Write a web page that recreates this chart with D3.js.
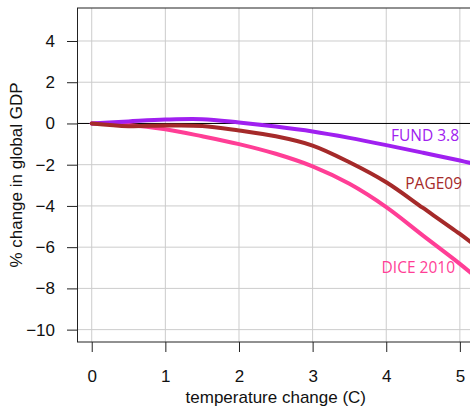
<!DOCTYPE html>
<html>
<head>
<meta charset="utf-8">
<script src="https://cdn.jsdelivr.net/npm/d3@7"></script>
<style>
  body { margin: 0; background: white; }
  svg { display: block; }
</style>
</head>
<body>
<div id="graf"></div>
<script>
// Daño económico vs. cambio de temperatura

// Datos
temps = [0, 0.5, 1, 1.5, 2, 2.5, 3, 3.5, 4, 4.5, 5, 5.2]
fund  = [0, 0.1, 0.19, 0.21, 0.05, -0.15, -0.39, -0.7, -1.05, -1.42, -1.8, -1.96]
page  = [0, -0.13, -0.1, -0.12, -0.34, -0.62, -1.07, -1.88, -2.85, -4.1, -5.36, -5.9]
dice  = [0, -0.07, -0.28, -0.62, -1.0, -1.47, -2.08, -2.93, -4.06, -5.44, -6.81, -7.4]

modelos  = ['DICE 2010', 'FUND 3.8', 'PAGE09']
valores  = [dice, fund, page]
colores  = ['#ff3e96', '#a020f0', '#a52a2a']

xTicks = [0, 1, 2, 3, 4, 5]
yTicks = [-10, -8, -6, -4, -2, 0, 2, 4]

ancho_total = 470
alto_total  = 406
margins = { top: 8, left: 77, bottom: 64 }
ancho = 397.6
alto  = alto_total - margins.top - margins.bottom

svg = d3.select('#graf').append('svg')
        .attr('width', ancho_total)
        .attr('height', alto_total)

g = svg.append('g')
        .attr('transform', `translate(${ margins.left }, ${ margins.top })`)

// Escaladores
x = d3.scaleLinear().domain([-0.2, 5.2]).range([0, ancho])
y = d3.scaleLinear().domain([-10.6, 5.6]).range([alto, 0])

g.append('clipPath')
  .attr('id', 'clip')
    .append('rect')
    .attr('width', ancho)
    .attr('height', alto)

// Rejilla
g.selectAll('.gx').data(xTicks).enter()
  .append('line')
    .attr('x1', d => x(d)).attr('x2', d => x(d))
    .attr('y1', 0).attr('y2', alto)
    .attr('stroke', '#cccccc')
g.selectAll('.gy').data(yTicks).enter()
  .append('line')
    .attr('x1', 0).attr('x2', ancho)
    .attr('y1', d => y(d)).attr('y2', d => y(d))
    .attr('stroke', '#cccccc')

g.append('line')
  .attr('x1', 0).attr('x2', ancho)
  .attr('y1', y(0)).attr('y2', y(0))
  .attr('stroke', 'black')

// Ejes
xAxis = d3.axisBottom(x).tickValues(xTicks).tickSize(10).tickPadding(18).tickFormat(d3.format('d'))
yAxis = d3.axisLeft(y).tickValues(yTicks).tickSize(10).tickPadding(12).tickFormat(d3.format('d'))

ejes = [
  g.append('g').attr('transform', `translate(0,${alto})`).call(xAxis),
  g.append('g').call(yAxis)
]
ejes.forEach(e => {
  e.select('.domain').remove()
  e.selectAll('text')
    .attr('font-family', 'Liberation Sans, Arial, sans-serif')
    .attr('font-size', '17px')
    .attr('fill', '#111')
  e.selectAll('line').attr('stroke', '#222')
})

g.append('rect')
  .attr('x', 0.5)
  .attr('y', 0)
  .attr('width', ancho)
  .attr('height', alto)
  .attr('fill', 'none')
  .attr('stroke', '#222')

// Curvas
linea = d3.line().curve(d3.curveCatmullRom.alpha(0.5))

valores.forEach((serie, i) => {
  g.append('path')
    .datum(temps.map((t, j) => [x(t), y(serie[j])]))
    .attr('d', linea)
    .attr('fill', 'none')
    .attr('stroke', colores[i])
    .attr('stroke-width', 4)
    .attr('stroke-linecap', 'round')
    .attr('stroke-linejoin', 'round')
    .attr('clip-path', 'url(#clip)')
})

// Etiquetas de cada modelo
etiquetas = [
  { i: 1, x: 459, y: 141 },
  { i: 2, x: 462, y: 189 },
  { i: 0, x: 455, y: 273 }
]
etiquetas.forEach(d => {
  svg.append('text')
    .attr('x', d.x)
    .attr('y', d.y)
    .attr('text-anchor', 'end')
    .attr('font-family', 'Open Sans, sans-serif')
    .attr('font-size', '15.5px')
    .attr('fill', colores[d.i])
    .text(modelos[d.i])
})

// Títulos
svg.append('text')
  .attr('x', margins.left + ancho / 2)
  .attr('y', 403)
  .attr('text-anchor', 'middle')
  .attr('font-family', 'Liberation Sans, Arial, sans-serif')
  .attr('font-size', '17px')
  .attr('fill', '#111')
  .text('temperature change (C)')

svg.append('text')
  .attr('transform', `translate(22, ${margins.top + alto / 2}) rotate(-90)`)
  .attr('text-anchor', 'middle')
  .attr('font-family', 'Liberation Sans, Arial, sans-serif')
  .attr('font-size', '17px')
  .attr('fill', '#111')
  .text('% change in global GDP')
</script>
</body>
</html>
